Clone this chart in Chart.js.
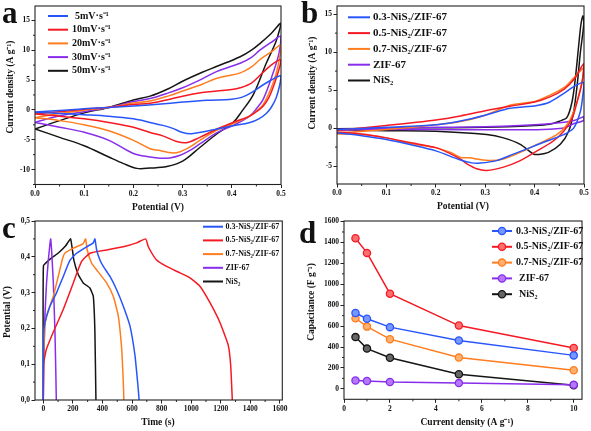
<!DOCTYPE html>
<html><head><meta charset="utf-8">
<script src="https://cdn.jsdelivr.net/npm/chart.js@4.4.1/dist/chart.umd.min.js"></script>
<style>
html,body{margin:0;padding:0;background:#fff;}
#wrap{position:relative;width:591px;height:431px;overflow:hidden;}
canvas{position:absolute;}
</style></head>
<body><div id="wrap">
<canvas id="ca" width="295" height="215" style="left:0;top:0"></canvas>
<canvas id="cb" width="296" height="215" style="left:295px;top:0"></canvas>
<canvas id="cc" width="295" height="216" style="left:0;top:215px"></canvas>
<canvas id="cd" width="296" height="216" style="left:295px;top:215px"></canvas>
</div>
<script>
// ---------- Panel a : CV at different scan rates ([potential V, current density A/g]) ----------
const aLabels = ['5mV·s⁻¹','10mV·s⁻¹','20mV·s⁻¹','30mV·s⁻¹','50mV·s⁻¹'];
const a5 = [[0,-0.35],[0.05,-0.1],[0.1,0.2],[0.15,0.4],[0.2,0.65],[0.25,0.95],[0.3,1.3],[0.35,1.6],[0.4,1.8],[0.42,2.1],[0.44,2.9],[0.46,4.0],[0.48,5.0],[0.5,5.7],
 [0.497,4.0],[0.49,2.0],[0.48,0.4],[0.47,-0.6],[0.455,-1.5],[0.437,-2.1],[0.4,-2.7],[0.37,-3.2],[0.34,-3.7],[0.318,-4.0],[0.3,-3.8],[0.28,-3.1],[0.26,-2.6],[0.234,-2.1],[0.2,-1.5],[0.15,-1.05],[0.1,-0.8],[0.05,-0.6],[0,-0.4]];
const a10 = [[0,-0.7],[0.05,-0.3],[0.1,0.1],[0.15,0.45],[0.2,0.9],[0.234,1.1],[0.27,1.7],[0.3,2.3],[0.34,2.9],[0.37,3.15],[0.4,3.4],[0.417,3.7],[0.44,4.5],[0.46,6.0],[0.48,7.5],[0.5,8.4],
 [0.495,6.5],[0.485,4.0],[0.475,2.0],[0.464,0.66],[0.45,-0.3],[0.437,-1.0],[0.403,-2.1],[0.37,-3.2],[0.335,-4.6],[0.308,-5.5],[0.288,-5.3],[0.261,-4.4],[0.234,-3.8],[0.2,-2.9],[0.15,-2.1],[0.1,-1.5],[0.05,-1.05],[0,-0.7]];
const a20 = [[0,-1.3],[0.05,-0.6],[0.1,-0.05],[0.15,0.4],[0.2,1.15],[0.234,1.5],[0.27,2.3],[0.3,3.15],[0.34,4.3],[0.37,5.3],[0.417,6.2],[0.44,7.2],[0.457,8.4],[0.48,9.7],[0.5,10.8],
 [0.495,7.8],[0.484,4.5],[0.464,0.9],[0.45,-0.2],[0.437,-1.0],[0.403,-2.3],[0.37,-3.4],[0.335,-5.1],[0.315,-6.2],[0.295,-7.0],[0.278,-7.2],[0.254,-6.8],[0.234,-6.5],[0.2,-5.1],[0.15,-3.5],[0.1,-2.5],[0.05,-1.8],[0,-1.3]];
const a30 = [[0,-2.1],[0.05,-1.0],[0.1,-0.3],[0.15,0.4],[0.2,1.4],[0.234,1.9],[0.27,2.8],[0.3,3.7],[0.34,5.2],[0.37,6.45],[0.417,7.8],[0.44,8.8],[0.457,10.0],[0.48,11.3],[0.5,12.3],
 [0.496,9.5],[0.484,6.2],[0.464,1.8],[0.45,0.2],[0.437,-1.0],[0.403,-2.6],[0.37,-3.8],[0.335,-5.7],[0.315,-6.8],[0.295,-7.6],[0.274,-8.05],[0.254,-8.1],[0.234,-7.9],[0.2,-7.3],[0.15,-5.1],[0.1,-3.75],[0.05,-2.9],[0,-2.1]];
const a50 = [[0,-3.2],[0.05,-1.8],[0.1,-0.5],[0.15,0.4],[0.2,1.65],[0.234,2.3],[0.27,3.5],[0.3,4.8],[0.34,6.3],[0.37,7.3],[0.417,8.9],[0.44,10.0],[0.457,11.1],[0.48,12.8],[0.5,14.5],
 [0.49,11.5],[0.47,7.8],[0.444,2.6],[0.42,-0.3],[0.403,-2.1],[0.37,-4.0],[0.335,-6.3],[0.3,-8.6],[0.268,-9.5],[0.234,-9.75],[0.207,-9.8],[0.18,-9.0],[0.15,-7.9],[0.1,-6.0],[0.05,-4.6],[0,-3.2]];

// ---------- Panel b : CV of the samples ----------
const sampleLabels = ['0.3-NiS₂/ZIF-67','0.5-NiS₂/ZIF-67','0.7-NiS₂/ZIF-67','ZIF-67','NiS₂'];
const b03 = [[0,-0.2],[0.1,0.1],[0.2,0.43],[0.25,0.94],[0.3,1.7],[0.35,2.6],[0.38,2.8],[0.4,2.9],[0.43,3.4],[0.46,4.6],[0.48,5.5],[0.5,6.0],
 [0.498,4.5],[0.4925,2.15],[0.479,0],[0.459,-0.86],[0.425,-1.7],[0.391,-2.57],[0.357,-3.43],[0.323,-4.28],[0.29,-4.6],[0.273,-4.58],[0.25,-4.2],[0.2,-3.0],[0.15,-2.2],[0.1,-1.5],[0.05,-1.0],[0,-0.64]];
const b05 = [[0,-0.3],[0.1,0.34],[0.2,1.07],[0.25,1.6],[0.3,2.27],[0.35,2.87],[0.4,3.43],[0.43,4.07],[0.46,5.14],[0.48,6.43],[0.5,8.5],
 [0.496,6.0],[0.486,3.43],[0.476,1.29],[0.459,-0.42],[0.438,-1.7],[0.405,-3.0],[0.371,-4.28],[0.337,-5.14],[0.303,-5.57],[0.283,-5.35],[0.263,-4.7],[0.25,-4.1],[0.23,-3.4],[0.2,-2.57],[0.15,-1.93],[0.1,-1.29],[0.05,-0.77],[0,-0.5]];
const b07 = [[0,-0.64],[0.1,-0.2],[0.2,0.43],[0.25,0.86],[0.3,1.7],[0.35,3.0],[0.4,3.5],[0.43,4.3],[0.46,5.36],[0.48,6.64],[0.5,7.9],
 [0.4925,5.1],[0.479,2.15],[0.4655,0.43],[0.445,-0.86],[0.405,-2.14],[0.371,-3.2],[0.337,-4.07],[0.31,-4.28],[0.283,-4.07],[0.269,-3.9],[0.25,-3.86],[0.23,-3.2],[0.2,-2.57],[0.15,-2.06],[0.1,-1.29],[0.05,-0.86],[0,-0.77]];
const bZIF = [[0,-0.2],[0.1,0],[0.2,0.1],[0.3,0.17],[0.4,0.43],[0.45,0.7],[0.48,1.0],[0.5,1.5],
 [0.5,1.0],[0.48,0.6],[0.459,0],[0.43,-0.15],[0.405,-0.21],[0.3,-0.22],[0.2,-0.2],[0.1,-0.2],[0,-0.26]];
const bNiS2 = [[0,-0.1],[0.1,0],[0.2,0.05],[0.3,0.1],[0.4,0.34],[0.43,0.5],[0.45,0.9],[0.4655,1.4],[0.4757,3.43],[0.4823,6.43],[0.489,10.7],[0.4939,13.7],[0.498,14.8],
 [0.4995,13.7],[0.4925,9.86],[0.486,5.57],[0.479,2.15],[0.469,-0.42],[0.452,-2.14],[0.428,-3.2],[0.408,-3.47],[0.398,-3.43],[0.371,-2.14],[0.337,-1.29],[0.303,-0.86],[0.2,-0.43],[0.1,-0.34],[0,-0.2]];

// ---------- Panel c : GCD curves ([time s, potential V]) ----------
const c03 = [[0,0],[2,0.18],[11,0.216],[45,0.262],[90,0.3],[135,0.345],[180,0.39],[225,0.41],[293,0.428],[338,0.439],[349,0.45],[361,0.419],[383,0.391],[406,0.373],[451,0.345],[496,0.308],[541,0.262],[586,0.207],[620,0.124],[640,0.04],[648,0]];
const c05 = [[0,0],[2,0.1],[22,0.143],[68,0.19],[135,0.253],[203,0.327],[259,0.387],[316,0.41],[428,0.419],[541,0.428],[631,0.439],[692,0.45],[710,0.428],[766,0.391],[834,0.373],[924,0.355],[992,0.341],[1059,0.318],[1127,0.272],[1195,0.216],[1251,0.152],[1267,0.097],[1278,0]];
const c07 = [[0,0],[3,0.1],[11,0.21],[34,0.25],[68,0.29],[101,0.345],[131,0.396],[146,0.41],[203,0.424],[270,0.437],[286,0.45],[297,0.419],[327,0.382],[360,0.364],[428,0.327],[473,0.29],[507,0.235],[530,0.143],[540,0.06],[545,0]];
const cZIF = [[0,0],[3,0.1],[11,0.235],[22,0.327],[34,0.39],[50,0.45],[56,0.42],[68,0.327],[79,0.19],[86,0.05],[88,0]];
const cNiS2 = [[0,0],[1,0.375],[50,0.395],[100,0.41],[150,0.43],[185,0.45],[207,0.39],[237,0.35],[270,0.327],[315,0.313],[338,0.29],[349,0.19],[356,0]];

// ---------- Panel d : rate capability ----------
const dCurrent = [0.5, 1, 2, 5, 10];
const d03 = [725, 670, 590, 462, 320];
const d05 = [1440, 1300, 910, 605, 390];
const d07 = [675, 595, 475, 300, 178];
const dZIF = [80, 75, 65, 55, 38];
const dNiS2 = [495, 385, 298, 140, 35];

// ---------- Tick labels ----------
const potTicks = [0, 0.1, 0.2, 0.3, 0.4, 0.5];
const potTickLabels = ['0.0','0.1','0.2','0.3','0.4','0.5'];
const aYTicks = [-10, -5, 0, 5, 10, 15];
const aYTickLabels = ['-10','-5','0','5','10','15'];
const bYTicks = [-5, 0, 5, 10, 15];
const bYTickLabels = ['-5','0','5','10','15'];
const cXTicks = [0, 200, 400, 600, 800, 1000, 1200, 1400, 1600];
const cXTickLabels = ['0','200','400','600','800','1000','1200','1400','1600'];
const cYTicks = [0, 0.1, 0.2, 0.3, 0.4, 0.5];
const cYTickLabels = ['0,0','0,1','0,2','0,3','0,4','0,5'];
const dXTicks = [0, 2, 4, 6, 8, 10];
const dXTickLabels = ['0','2','4','6','8','10'];
const dYTicks = [0, 200, 400, 600, 800, 1000, 1200, 1400, 1600];
const dYTickLabels = ['0','200','400','600','800','1000','1200','1400','1600'];

// ---------- Styling ----------
const COL = { blue:'rgb(40,85,250)', red:'rgb(245,25,35)', orange:'rgb(255,125,30)', purple:'rgb(135,45,235)', black:'#151515' };
const LIGHT = { blue:'rgb(120,150,255)', red:'rgb(255,110,110)', orange:'rgb(255,175,110)', purple:'rgb(180,120,250)', black:'#666' };
const SERIF = '"Liberation Serif","Times New Roman",serif';
const tickFont = { family: SERIF, size: 7.5, weight: 'bold' };

function pts(arr) { return arr.map(p => ({ x: p[0], y: p[1] })); }
function line(label, arr, c, tension) {
  return { label, data: pts(arr), showLine: true, borderColor: COL[c], backgroundColor: COL[c], borderWidth: 1.5, pointRadius: 0, tension: tension, fill: false };
}
function mark(label, ys, c) {
  return { label, data: dCurrent.map((x, i) => ({ x, y: ys[i] })), showLine: true, borderColor: COL[c], backgroundColor: LIGHT[c],
    pointBackgroundColor: LIGHT[c], pointBorderColor: COL[c], pointBorderWidth: 1.3, pointRadius: 3.6, borderWidth: 1.5, tension: 0 };
}

const decor = {
  id: 'decor',
  afterDraw(chart, args, o) {
    const ctx = chart.ctx, a = chart.chartArea, xs = chart.scales.x, ys = chart.scales.y;
    ctx.save();
    ctx.strokeStyle = '#222'; ctx.lineWidth = 1.1;
    ctx.strokeRect(a.left, a.top, a.right - a.left, a.bottom - a.top);
    ctx.beginPath();
    (o.minorX || []).forEach(v => { const p = xs.getPixelForValue(v); ctx.moveTo(p, a.bottom); ctx.lineTo(p, a.bottom + 2); });
    (o.minorY || []).forEach(v => { const p = ys.getPixelForValue(v); ctx.moveTo(a.left, p); ctx.lineTo(a.left - 2, p); });
    ctx.lineWidth = 1; ctx.stroke();
    const L = o.legend;
    chart.data.datasets.forEach((d, i) => {
      const y = L.y + i * L.dy;
      ctx.strokeStyle = d.borderColor; ctx.lineWidth = 2;
      ctx.beginPath(); ctx.moveTo(L.x, y); ctx.lineTo(L.x + L.len, y); ctx.stroke();
      if (L.marker) {
        ctx.beginPath(); ctx.arc(L.x + L.len / 2, y, 3.6, 0, Math.PI * 2);
        ctx.fillStyle = d.pointBackgroundColor; ctx.fill(); ctx.lineWidth = 1.3; ctx.stroke();
      }
      ctx.fillStyle = '#111'; ctx.font = L.font; ctx.textBaseline = 'middle'; ctx.textAlign = 'left';
      ctx.fillText(d.label, L.x + L.len + L.gap + ((L.indent && L.indent[i]) || 0), y);
    });
    (o.texts || []).forEach(t => {
      ctx.save(); ctx.translate(t.x, t.y); if (t.rot) ctx.rotate(t.rot);
      ctx.fillStyle = '#111'; ctx.font = t.font; ctx.textAlign = t.align || 'center'; ctx.textBaseline = t.base || 'middle';
      ctx.fillText(t.t, 0, 0); ctx.restore();
    });
    ctx.restore();
  }
};

function axis(c, horiz) {
  return {
    type: 'linear', min: c.min, max: c.max,
    afterBuildTicks: s => { s.ticks = c.ticks.map(v => ({ value: v })); },
    afterFit: s => { if (horiz) s.height = c.size; else s.width = c.size; },
    ticks: { callback: (v, i) => c.labels[i], font: tickFont, color: '#111', padding: 1.5, maxRotation: 0, autoSkip: false },
    grid: { display: true, drawOnChartArea: false, drawTicks: true, tickLength: 3.5, tickColor: '#222', tickWidth: 1 },
    border: { display: false }
  };
}
function range(from, to, step) { const r = []; for (let v = from; v <= to + 1e-9; v += step) r.push(+v.toFixed(4)); return r; }

function make(id, datasets, cfg) {
  return new Chart(document.getElementById(id), {
    type: 'scatter',
    data: { datasets },
    options: {
      responsive: false, animation: false, devicePixelRatio: 1,
      layout: { padding: { top: cfg.pad[0], right: cfg.pad[1], bottom: 0, left: 0 } },
      plugins: { legend: { display: false }, tooltip: { enabled: false }, decor: cfg.decor },
      scales: { x: axis(cfg.x, true), y: axis(cfg.y, false) }
    },
    plugins: [decor]
  });
}
const TF = 'bold 9.5px ' + SERIF;
const LETTER = 'bold 31px ' + SERIF;
const R90 = -Math.PI / 2;

make('ca', [line(aLabels[0], a5, 'blue', 0.35), line(aLabels[1], a10, 'red', 0.35), line(aLabels[2], a20, 'orange', 0.35), line(aLabels[3], a30, 'purple', 0.35), line(aLabels[4], a50, 'black', 0.35)], {
  pad: [4, 14],
  x: { min: 0, max: 0.5, ticks: potTicks, labels: potTickLabels, size: 30.5 },
  y: { min: -12.5, max: 17.4, ticks: aYTicks, labels: aYTickLabels, size: 35 },
  decor: { minorX: range(0.05, 0.45, 0.1), minorY: range(-12.5, 12.5, 5).filter(v => v % 5 !== 0),
    legend: { x: 48, y: 16, dy: 13.7, len: 20, gap: 4, font: 'bold 10px ' + SERIF, indent: [3, 0, 0, 0, 0] },
    texts: [ { t: 'Current density (A g⁻¹)', x: 11, y: 87, rot: R90, font: TF }, { t: 'Potential (V)', x: 158, y: 208, font: TF },
      { t: 'a', x: 2, y: 23, font: LETTER, align: 'left', base: 'alphabetic' } ] }
});

make('cb', [line(sampleLabels[0], b03, 'blue', 0.3), line(sampleLabels[1], b05, 'red', 0.3), line(sampleLabels[2], b07, 'orange', 0.3), line(sampleLabels[3], bZIF, 'purple', 0.3), line(sampleLabels[4], bNiS2, 'black', 0.3)], {
  pad: [2, 7],
  x: { min: 0, max: 0.5, ticks: potTicks, labels: potTickLabels, size: 31 },
  y: { min: -7.36, max: 16.07, ticks: bYTicks, labels: bYTickLabels, size: 42 },
  decor: { minorX: range(0.05, 0.45, 0.1), minorY: [-2.5, 2.5, 7.5, 12.5],
    legend: { x: 53, y: 17.3, dy: 15.8, len: 22, gap: 3, font: 'bold 11px ' + SERIF },
    texts: [ { t: 'Current density (A g⁻¹)', x: 18, y: 83, rot: R90, font: TF }, { t: 'Potential (V)', x: 168, y: 207, font: TF },
      { t: 'b', x: 6, y: 23, font: LETTER, align: 'left', base: 'alphabetic' } ] }
});

make('cc', [line(sampleLabels[0], c03, 'blue', 0.15), line(sampleLabels[1], c05, 'red', 0.15), line(sampleLabels[2], c07, 'orange', 0.15), line(sampleLabels[3], cZIF, 'purple', 0.1), line(sampleLabels[4], cNiS2, 'black', 0.1)], {
  pad: [4, 12.7],
  x: { min: -56, max: 1616, ticks: cXTicks, labels: cXTickLabels, size: 31 },
  y: { min: 0, max: 0.5, ticks: cYTicks, labels: cYTickLabels, size: 35 },
  decor: { minorX: range(100, 1500, 200), minorY: range(0.05, 0.45, 0.1),
    legend: { x: 203, y: 11.7, dy: 13.7, len: 20, gap: 2.5, font: 'bold 8px ' + SERIF },
    texts: [ { t: 'Potential (V)', x: 8, y: 97, rot: R90, font: TF }, { t: 'Time (s)', x: 158, y: 208, font: TF },
      { t: 'c', x: 2, y: 23, font: LETTER, align: 'left', base: 'alphabetic' } ] }
});

make('cd', [mark(sampleLabels[0], d03, 'blue'), mark(sampleLabels[1], d05, 'red'), mark(sampleLabels[2], d07, 'orange'), mark(sampleLabels[3], dZIF, 'purple'), mark(sampleLabels[4], dNiS2, 'black')], {
  pad: [4.5, 9],
  x: { min: 0, max: 10.36, ticks: dXTicks, labels: dXTickLabels, size: 31.7 },
  y: { min: -100, max: 1605, ticks: dYTicks, labels: dYTickLabels, size: 49 },
  decor: { minorX: [1, 3, 5, 7, 9], minorY: range(100, 1500, 200),
    legend: { x: 197, y: 16, dy: 15.8, len: 20, gap: 4, font: 'bold 10px ' + SERIF, marker: true, indent: [0, 0, 0, 3, 3] },
    texts: [ { t: 'Capacitance (F g⁻¹)', x: 17, y: 87, rot: R90, font: TF }, { t: 'Current density (A g⁻¹)', x: 172, y: 208, font: TF },
      { t: 'd', x: 4, y: 28, font: LETTER, align: 'left', base: 'alphabetic' } ] }
});
</script>
</body></html>
